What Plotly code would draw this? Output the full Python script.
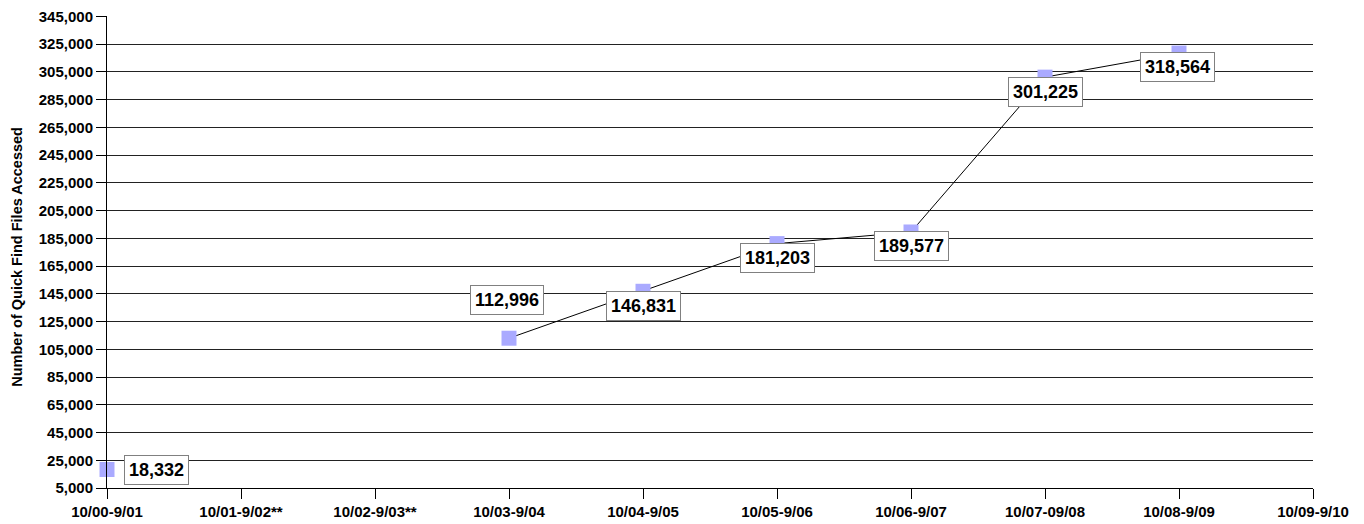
import plotly.graph_objects as go

categories = ["10/00-9/01", "10/01-9/02**", "10/02-9/03**", "10/03-9/04", "10/04-9/05",
              "10/05-9/06", "10/06-9/07", "10/07-09/08", "10/08-9/09", "10/09-9/10"]
files_accessed = [18332, None, None, 112996, 146831, 181203, 189577, 301225, 318564, None]
y_ticks = list(range(5000, 345001, 20000))
y_title = "Number of Quick Find Files Accessed"

# label box offsets in pixels (style only)
label_offsets = {0: (49, 0), 3: (-2, 38), 4: (0, -15), 5: (0, -14), 6: (0, -14), 7: (0, -15), 8: (-2, -14)}

font_family = "Liberation Sans, Arial, sans-serif"

fig = go.Figure()
fig.add_trace(go.Scatter(
    x=categories, y=files_accessed, mode="lines+markers",
    line=dict(color="black", width=1),
    marker=dict(symbol="square", size=15, color="#AAAAFF", line=dict(width=0)),
    connectgaps=False, cliponaxis=False, showlegend=False,
))

annotations = []
for i, v in enumerate(files_accessed):
    if v is None:
        continue
    dx, dy = label_offsets.get(i, (0, 0))
    annotations.append(dict(
        x=categories[i], y=v, xref="x", yref="y", text=f"<b>{v:,}</b>",
        showarrow=False, xshift=dx, yshift=dy,
        font=dict(family=font_family, size=18, color="black"),
        bgcolor="white", bordercolor="#808080", borderwidth=1, borderpad=4,
    ))
annotations.append(dict(
    x=-0.0746, y=0.49, xref="paper", yref="paper", text=f"<b>{y_title}</b>",
    textangle=-90, showarrow=False, xanchor="center", yanchor="middle",
    font=dict(family=font_family, size=14.5, color="black"),
))

fig.update_layout(
    width=1364, height=524,
    margin=dict(l=99, r=59, t=8, b=44),
    paper_bgcolor="white", plot_bgcolor="white",
    annotations=annotations,
    font=dict(family=font_family, color="black"),
)
fig.update_xaxes(
    type="category", categoryorder="array", categoryarray=categories,
    range=[0, 9], showgrid=False, zeroline=False, automargin=False,
    showline=True, linecolor="black", linewidth=1,
    ticks="outside", ticklen=10, tickcolor="black", tickwidth=1,
    tickfont=dict(family=font_family, size=15, color="black"),
    tickprefix="<b>", ticksuffix="</b>",
)
fig.update_yaxes(
    range=[5000, 345300], tickvals=y_ticks, ticktext=[f"<b>{t:,}</b>" for t in y_ticks],
    showgrid=True, gridcolor="#222222", gridwidth=1, zeroline=False, automargin=False,
    showline=True, linecolor="black", linewidth=1,
    ticks="outside", ticklen=10, tickcolor="black", tickwidth=1,
    tickfont=dict(family=font_family, size=15, color="black"),
    ticklabeloverflow="allow",
)

fig.write_html("out.html")
